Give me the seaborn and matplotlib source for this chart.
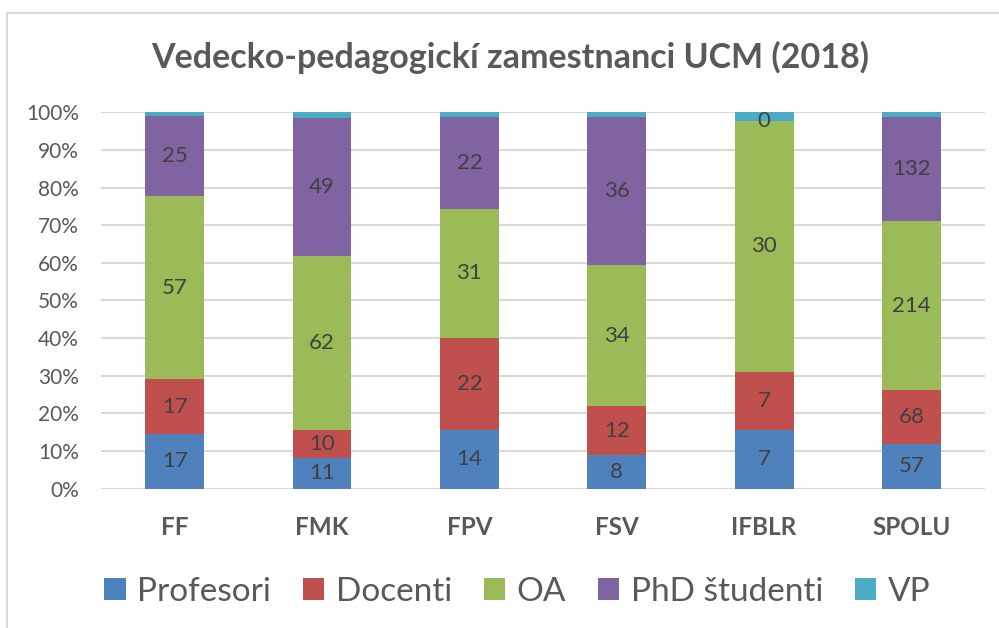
import matplotlib
matplotlib.use("Agg")
import matplotlib.pyplot as plt
import seaborn as sns
import pandas as pd
import numpy as np
from matplotlib.patches import Patch

categories = ["FF", "FMK", "FPV", "FSV", "IFBLR", "SPOLU"]
series_names = ["Profesori", "Docenti", "OA", "PhD študenti", "VP"]
profesori = [17, 11, 14, 8, 7, 57]
docenti = [17, 10, 22, 12, 7, 68]
oa = [57, 62, 31, 34, 30, 214]
phd = [25, 49, 22, 36, 0, 132]
vp = [1, 2, 1, 1, 1, 6]
colors = ["#4F81BD", "#C0504D", "#9BBB59", "#8064A2", "#4BACC6"]
show_labels = [True, True, True, True, False]
title = "Vedecko-pedagogickí zamestnanci UCM (2018)"

sns.set_theme(style="white")
plt.rcParams["font.family"] = ["Lato", "DejaVu Sans"]

values = [profesori, docenti, oa, phd, vp]
df = pd.DataFrame({name: v for name, v in zip(series_names, values)}, index=categories)
pct = df.div(df.sum(axis=1), axis=0) * 100

fig = plt.figure(figsize=(9.99, 6.28), dpi=100)
ax = fig.add_axes([0.1011, 0.2221, 0.885, 0.5988])

bottom = np.zeros(len(categories))
for name, col, lab in zip(series_names, colors, show_labels):
    d = pd.DataFrame({"cat": categories, "val": pct[name].values})
    sns.barplot(data=d, x="cat", y="val", color=col, width=0.4, bottom=bottom,
                ax=ax, saturation=1, edgecolor="none", linewidth=0, zorder=3)
    if lab:
        for i, (v, raw) in enumerate(zip(pct[name].values, df[name].values)):
            ax.text(i, bottom[i] + v / 2, f"{raw}", ha="center", va="center",
                    fontsize=16, color="#404040", zorder=5)
    bottom = bottom + pct[name].values

ax.set_xlim(-0.5, 5.5)
ax.set_ylim(0, 100)
ax.set_yticks(np.arange(0, 101, 10))
ax.set_yticklabels([f"{t}%" for t in range(0, 101, 10)])
ax.yaxis.grid(True, color="#D9D9D9", linewidth=1.5, zorder=0)
ax.set_axisbelow(True)
for s in ax.spines.values():
    s.set_visible(False)
ax.tick_params(axis="y", labelsize=15, colors="#595959", length=0, pad=16)
ax.tick_params(axis="x", labelsize=17.5, colors="#595959", length=0, pad=20)
for t in ax.get_xticklabels():
    t.set_fontweight("bold")
ax.set_xlabel("")
ax.set_ylabel("")

fig.text(0.511, 0.909, title, ha="center", va="center", fontsize=24.5,
         fontweight="bold", color="#595959")

handles = [Patch(facecolor=c, edgecolor="none") for c in colors]
fig.legend(handles, series_names, loc="center", bbox_to_anchor=(0.518, 0.058),
           ncol=5, frameon=False, fontsize=24, labelcolor="#595959",
           handlelength=0.64, handleheight=0.64, handletextpad=0.35,
           columnspacing=0.95)

# chart border (top and left visible)
fig.add_artist(plt.Line2D([0.0075, 1.0], [0.979, 0.979], color="#D9D9D9", linewidth=1.5,
                          transform=fig.transFigure))
fig.add_artist(plt.Line2D([0.0075, 0.0075], [0.0, 0.979], color="#D9D9D9", linewidth=1.5,
                          transform=fig.transFigure))

fig.savefig("out.png", dpi=100)
